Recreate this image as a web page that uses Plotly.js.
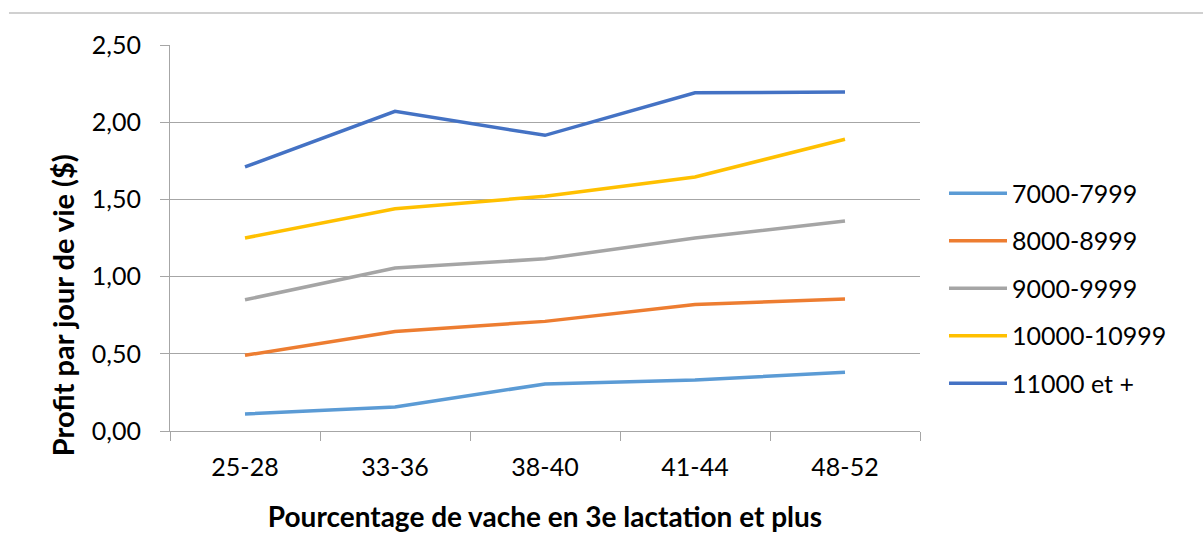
<!DOCTYPE html>
<html>
<head>
<meta charset="utf-8">
<script src="https://cdn.plot.ly/plotly-3.0.1.min.js"></script>
<style>html,body{margin:0;padding:0;background:#fff;}#chart{width:1203px;height:556px;}</style>
</head>
<body>
<div id="chart"></div>
<script>
const categories = ["25-28", "33-36", "38-40", "41-44", "48-52"];
const seriesNames = ["7000-7999", "8000-8999", "9000-9999", "10000-10999", "11000 et +"];
const s7000 = [0.11, 0.155, 0.305, 0.33, 0.38];
const s8000 = [0.49, 0.645, 0.71, 0.82, 0.855];
const s9000 = [0.85, 1.055, 1.115, 1.25, 1.36];
const s10000 = [1.25, 1.44, 1.52, 1.645, 1.89];
const s11000 = [1.71, 2.07, 1.915, 2.19, 2.195];
const colors = ["#5B9BD5", "#ED7D31", "#A5A5A5", "#FFC000", "#4472C4"];
const yTickVals = [0, 0.5, 1, 1.5, 2, 2.5];
const xTitle = "Pourcentage de vache en 3e lactation et plus";
const yTitle = "Profit par jour de vie ($)";

const allSeries = [s7000, s8000, s9000, s10000, s11000];
const FONT = "Lato, 'Open Sans', sans-serif";
const traces = allSeries.map((vals, i) => ({
  type: "scatter",
  mode: "lines",
  x: categories,
  y: vals,
  name: seriesNames[i],
  legendgroup: "g" + i,
  line: {color: colors[i], width: 3.5},
  hoverinfo: "skip"
}));

const layout = {
  width: 1203, height: 556,
  margin: {l: 170, r: 283, t: 45, b: 125},
  paper_bgcolor: "#fff", plot_bgcolor: "#fff",
  separators: ",.",
  font: {family: FONT, size: 25, color: "#000"},
  showlegend: true,
  legend: {
    x: 1.032, y: 0.675, xanchor: "left", yanchor: "top",
    font: {family: FONT, size: 25, color: "#000"},
    tracegroupgap: 12,
    itemwidth: 58,
    bgcolor: "rgba(0,0,0,0)"
  },
  xaxis: {
    type: "category",
    range: [-0.5, 4.5],
    showgrid: false,
    showline: true, linecolor: "#a6a6a6", linewidth: 1,
    ticks: "outside", tickson: "boundaries", ticklen: 9, tickcolor: "#a6a6a6",
    ticklabelstandoff: 14,
    tickfont: {family: FONT, size: 25, color: "#000"},
    title: {text: "<b>" + xTitle + "</b>", font: {family: FONT, size: 28, color: "#000"}, standoff: 27},
    zeroline: false, fixedrange: true
  },
  yaxis: {
    range: [0, 2.5],
    tickvals: yTickVals,
    tickformat: ".2f",
    showgrid: true, gridcolor: "#a6a6a6", gridwidth: 1,
    showline: true, linecolor: "#a6a6a6", linewidth: 1,
    ticks: "outside", ticklen: 9, tickcolor: "#a6a6a6",
    ticklabelstandoff: 14,
    tickfont: {family: FONT, size: 25, color: "#000"},
    zeroline: false, fixedrange: true
  },
  annotations: [{
    text: "<b>" + yTitle + "</b>",
    textangle: -90,
    xref: "paper", yref: "paper",
    x: -0.144, y: 0.326, xanchor: "center", yanchor: "middle",
    showarrow: false,
    font: {family: FONT, size: 29, color: "#000"}
  }],
  shapes: [{
    type: "line", xref: "paper", yref: "paper",
    x0: -0.2147, x1: 1.38, y0: 1.083, y1: 1.083,
    line: {color: "#d0d0d0", width: 2}
  }]
};

Plotly.newPlot("chart", traces, layout, {displayModeBar: false, staticPlot: true});
</script>
</body>
</html>
